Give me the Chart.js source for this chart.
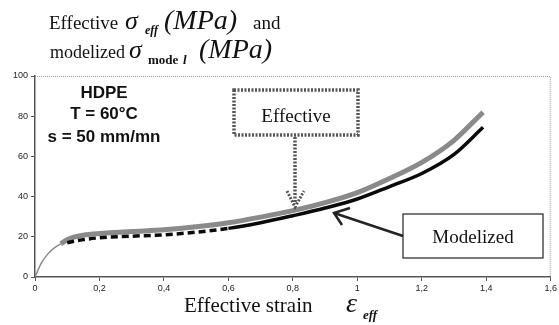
<!DOCTYPE html>
<html>
<head>
<meta charset="utf-8">
<script src="https://cdn.jsdelivr.net/npm/chart.js@4"></script>
<style>
  html, body { margin: 0; padding: 0; background: #fff; }
  #wrap { position: relative; width: 559px; height: 325px; }
</style>
</head>
<body>
<div id="wrap"><canvas id="strainChart" width="559" height="325"></canvas></div>
<script>
// strain values (x) and stresses in MPa
const effStrain = [0, 0.02, 0.04, 0.06, 0.08, 0.1, 0.12, 0.15, 0.2, 0.3, 0.4, 0.5, 0.6, 0.7, 0.8, 0.9, 1.0, 1.1, 1.2, 1.3, 1.39];
const effStress = [0, 7, 11.5, 14.5, 16.5, 18.5, 19.8, 20.8, 21.6, 22.6, 23.5, 25, 27, 29.8, 33, 37, 42, 49, 57, 68, 82];

const modStrain = [0.1, 0.12, 0.15, 0.2, 0.3, 0.4, 0.5, 0.6, 0.7, 0.8, 0.9, 1.0, 1.1, 1.2, 1.3, 1.39];
const modStress = [17, 17.8, 18.6, 19.5, 20.3, 21, 22.3, 24.2, 27, 30.5, 34.3, 38.8, 45, 51.5, 61, 74.5];

const xTicks = [0, 0.2, 0.4, 0.6, 0.8, 1, 1.2, 1.4, 1.6];
const yTicks = [0, 20, 40, 60, 80, 100];

const SERIF = '"Liberation Serif", "Times New Roman", serif';
const SANS = '"Liberation Sans", Arial, sans-serif';

function toPoints(xs, ys) {
    return xs.map(function (x, i) { return { x: x, y: ys[i] }; });
}

function drawRuns(ctx, runs) {
    runs.forEach(function (r) {
        ctx.font = r.font;
        ctx.fillText(r.t, r.x, r.y);
    });
}

function arrowHead(ctx, tx, ty, ax, ay, bx, by) {
    ctx.beginPath();
    ctx.moveTo(ax, ay);
    ctx.lineTo(tx, ty);
    ctx.lineTo(bx, by);
    ctx.stroke();
}

const annotations = {
    id: 'annotations',
    afterDraw: function (chart) {
        const ctx = chart.ctx;
        const area = chart.chartArea;
        ctx.save();

        // dotted top and right frame
        ctx.strokeStyle = '#999';
        ctx.lineWidth = 1;
        ctx.setLineDash([1, 1]);
        ctx.beginPath();
        ctx.moveTo(area.left, area.top + 0.5);
        ctx.lineTo(area.right - 0.5, area.top + 0.5);
        ctx.lineTo(area.right - 0.5, area.bottom);
        ctx.stroke();
        ctx.setLineDash([]);

        ctx.fillStyle = '#111';
        ctx.textBaseline = 'alphabetic';
        ctx.textAlign = 'left';

        // title lines
        drawRuns(ctx, [
            { t: 'Effective', font: '19px ' + SERIF, x: 49, y: 29 },
            { t: 'σ', font: 'italic 26px ' + SERIF, x: 125, y: 29 },
            { t: 'eff', font: 'italic bold 12px ' + SERIF, x: 145, y: 34 },
            { t: '(MPa)', font: 'italic 28px ' + SERIF, x: 164, y: 29 },
            { t: 'and', font: '19px ' + SERIF, x: 253, y: 29 },
            { t: 'modelized', font: '18px ' + SERIF, x: 50, y: 58 },
            { t: 'σ', font: 'italic 26px ' + SERIF, x: 129, y: 58 },
            { t: 'mode', font: 'bold 13px ' + SERIF, x: 148, y: 64 },
            { t: 'l', font: 'italic bold 13px ' + SERIF, x: 183, y: 64 },
            { t: '(MPa)', font: 'italic 28px ' + SERIF, x: 199, y: 58 }
        ]);

        // x axis title
        drawRuns(ctx, [
            { t: 'Effective strain', font: '21px ' + SERIF, x: 184, y: 312 },
            { t: 'ε', font: 'italic 28px ' + SERIF, x: 346, y: 312 },
            { t: 'eff', font: 'italic bold 13px ' + SERIF, x: 363, y: 319 }
        ]);

        // test conditions
        ctx.textAlign = 'center';
        ctx.font = 'bold 17px ' + SANS;
        ctx.fillText('HDPE', 104, 98);
        ctx.fillText('T = 60°C', 104, 119);
        ctx.fillText('s = 50 mm/mn', 104, 142);

        // "Effective" callout with checkered border
        ctx.fillStyle = '#fff';
        ctx.fillRect(234, 90, 124, 45);
        ctx.strokeStyle = '#555';
        ctx.lineWidth = 3.5;
        ctx.setLineDash([2, 1.5]);
        ctx.strokeRect(234, 90, 124, 45);
        ctx.beginPath();
        ctx.moveTo(295, 137);
        ctx.lineTo(295, 204);
        ctx.stroke();
        ctx.lineWidth = 3;
        arrowHead(ctx, 295, 207, 287, 191, 304, 191);
        ctx.setLineDash([]);
        ctx.fillStyle = '#111';
        ctx.font = '19px ' + SERIF;
        ctx.fillText('Effective', 296, 122);

        // "Modelized" callout
        ctx.fillStyle = '#fff';
        ctx.fillRect(403, 214, 140, 44);
        ctx.strokeStyle = '#222';
        ctx.lineWidth = 1.2;
        ctx.strokeRect(403, 214, 140, 44);
        ctx.lineWidth = 2.5;
        ctx.beginPath();
        ctx.moveTo(403, 236);
        ctx.lineTo(334, 213);
        ctx.stroke();
        arrowHead(ctx, 334, 213, 350, 208, 342, 225);
        ctx.fillStyle = '#111';
        ctx.font = '19px ' + SERIF;
        ctx.fillText('Modelized', 473, 243);

        ctx.restore();
    }
};

const canvas = document.getElementById('strainChart');

new Chart(canvas, {
    type: 'line',
    data: {
        datasets: [
            {
                label: 'Effective',
                data: toPoints(effStrain, effStress),
                borderColor: '#8a8a8a',
                borderWidth: 5,
                pointRadius: 0,
                cubicInterpolationMode: 'monotone',
                segment: {
                    borderWidth: function (ctx) { return ctx.p0.parsed.x < 0.08 ? 1.5 : 5; }
                },
                order: 2
            },
            {
                label: 'Modelized',
                data: toPoints(modStrain, modStress),
                borderColor: '#0a0a0a',
                borderWidth: 3.5,
                pointRadius: 0,
                cubicInterpolationMode: 'monotone',
                segment: {
                    borderDash: function (ctx) { return ctx.p0.parsed.x < 0.6 ? [7, 4] : undefined; }
                },
                order: 1
            }
        ]
    },
    options: {
        responsive: false,
        animation: false,
        layout: { padding: { top: 76, right: 7, left: 0, bottom: 0 } },
        plugins: {
            legend: { display: false },
            tooltip: { enabled: false }
        },
        scales: {
            x: {
                type: 'linear',
                min: 0,
                max: 1.6,
                afterBuildTicks: function (scale) {
                    scale.ticks = xTicks.map(function (v) { return { value: v }; });
                },
                afterFit: function (scale) { scale.height = 48; },
                ticks: {
                    color: '#222',
                    font: { family: SANS, size: 9 },
                    padding: 2,
                    maxRotation: 0,
                    callback: function (v) { return String(v).replace('.', ','); }
                },
                grid: { drawOnChartArea: false, tickLength: 4, color: '#555' },
                border: { color: '#555', width: 1.5 }
            },
            y: {
                min: 0,
                max: 100,
                afterBuildTicks: function (scale) {
                    scale.ticks = yTicks.map(function (v) { return { value: v }; });
                },
                afterFit: function (scale) { scale.width = 35; },
                ticks: {
                    color: '#222',
                    font: { family: SANS, size: 9 },
                    padding: 3
                },
                grid: { drawOnChartArea: false, tickLength: 4, color: '#555' },
                border: { color: '#555', width: 1.5 }
            }
        }
    },
    plugins: [annotations]
});
</script>
</body>
</html>
